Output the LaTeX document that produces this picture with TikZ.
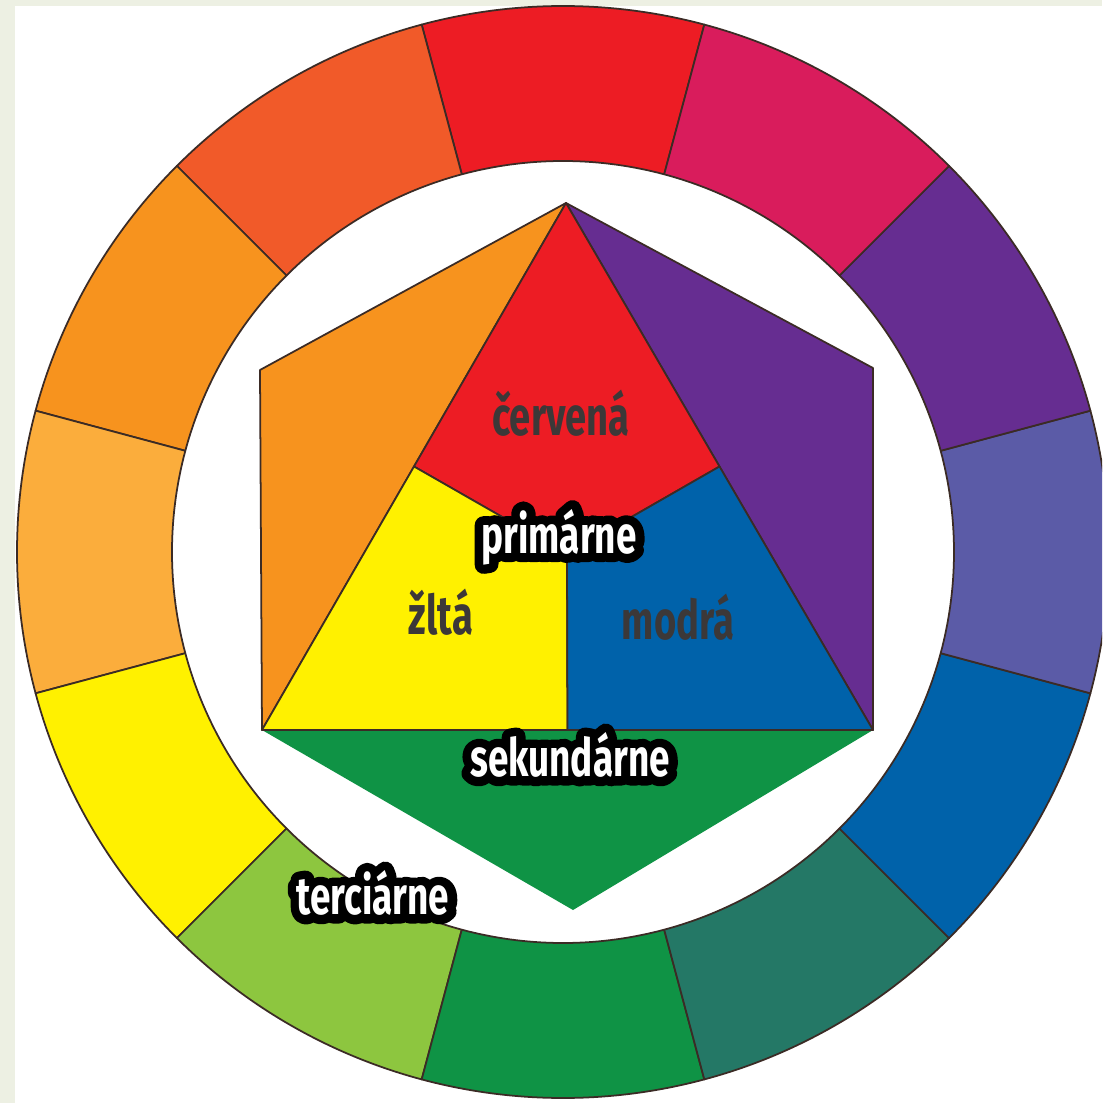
\documentclass[tikz,border=0pt]{standalone}
\usepackage{fontspec}
\newfontfamily\wheelfont[FakeStretch=0.70]{Fira Sans}
\newfontfamily\rimfont[FakeStretch=0.70, FakeBold=34]{Fira Sans}
\usepackage{tikz}
\usetikzlibrary{calc}

\definecolor{stripc}{HTML}{EDF0E3}
\definecolor{edgec}{HTML}{3B2B25}
\definecolor{lblgray}{HTML}{3C3838}
\definecolor{cRed}{HTML}{ED1C24}
\definecolor{cRedOrange}{HTML}{F15A29}
\definecolor{cOrange}{HTML}{F7931E}
\definecolor{cYellowOrange}{HTML}{FBAD3C}
\definecolor{cYellow}{HTML}{FFF100}
\definecolor{cYellowGreen}{HTML}{8DC63F}
\definecolor{cGreen}{HTML}{0F9345}
\definecolor{cTeal}{HTML}{247866}
\definecolor{cBlue}{HTML}{0062AA}
\definecolor{cBlueViolet}{HTML}{5B5BA7}
\definecolor{cViolet}{HTML}{662D91}
\definecolor{cRedViolet}{HTML}{D91C5C}

\tikzset{
  seg/.style={draw=edgec, line width=0.5pt, line join=round},
  darklbl/.style={font=\wheelfont\bfseries\fontsize{15.5}{18}\selectfont, text=lblgray, inner sep=0pt},
  outlbl/.style={font=\wheelfont\bfseries\fontsize{15}{18}\selectfont, text=white, inner sep=0pt},
  rimlbl/.style={font=\rimfont\bfseries\fontsize{15}{18}\selectfont, text=black, inner sep=0pt,
    line join=round, line cap=round}
}

% white text with a thick black rim: name, position, text
\newcommand{\outlinedlabel}[3]{%
  \node[rimlbl] (#1rim) at (#2) {#3};
  \node[outlbl] (#1) at (#2) {#3};
}

\begin{document}
\begin{tikzpicture}[x=0.01cm, y=0.01cm]
% page with the light strips on top and left
\useasboundingbox (-563,-551) rectangle (539,552);
\clip (-563,-551) rectangle (539,552);
\fill[stripc] (-563,-551) rectangle (539,552);
\fill[white] (-548,-551) rectangle (539,546);

% outer ring of twelve colours
\def\rin{391}
\def\rout{546}
\foreach \c [count=\i] in {cRed,cRedOrange,cOrange,cYellowOrange,cYellow,cYellowGreen,cGreen,cTeal,cBlue,cBlueViolet,cViolet,cRedViolet}{
  \pgfmathsetmacro\a{90+30*(\i-1)}
  \draw[seg, fill=\c] (\a-15:\rin) -- (\a-15:\rout)
    arc[start angle=\a-15, end angle=\a+15, radius=\rout]
    -- (\a+15:\rin)
    arc[start angle=\a+15, end angle=\a-15, radius=\rin] -- cycle;
}

% corners of the hexagon
\coordinate (top) at (3,349);
\coordinate (ul) at (-303,182);
\coordinate (ll) at (-301,-178);
\coordinate (bot) at (10,-358);
\coordinate (lr) at (310,-178);
\coordinate (ur) at (310,184);
% edge midpoints and centre of the triangle
\coordinate (lmid) at ($(top)!0.5!(ll)$);
\coordinate (rmid) at ($(top)!0.5!(lr)$);
\coordinate (bmid) at ($(ll)!0.5!(lr)$);
\coordinate (cen) at (4,-2);

% secondary colours
\draw[seg, fill=cOrange] (top) -- (ul) -- (ll) -- cycle;
\draw[seg, fill=cViolet] (top) -- (ur) -- (lr) -- cycle;
\fill[cGreen] (ll) -- (bot) -- (lr) -- cycle;

% primary colours
\draw[seg, fill=cRed] (top) -- (lmid) -- (cen) -- (rmid) -- cycle;
\draw[seg, fill=cYellow] (lmid) -- (ll) -- (bmid) -- (cen) -- cycle;
\draw[seg, fill=cBlue] (rmid) -- (cen) -- (bmid) -- (lr) -- cycle;

% labels
\node[darklbl] (cervena) at (-2,139) {červená};
\node[darklbl] (zlta) at (-122,-60) {žltá};
\node[darklbl] (modra) at (115,-65) {modrá};
\outlinedlabel{prim}{-4,15}{primárne}
\outlinedlabel{sek}{7,-203}{sekundárne}
\outlinedlabel{terc}{-190,-341}{terciárne}
\end{tikzpicture}
\end{document}
